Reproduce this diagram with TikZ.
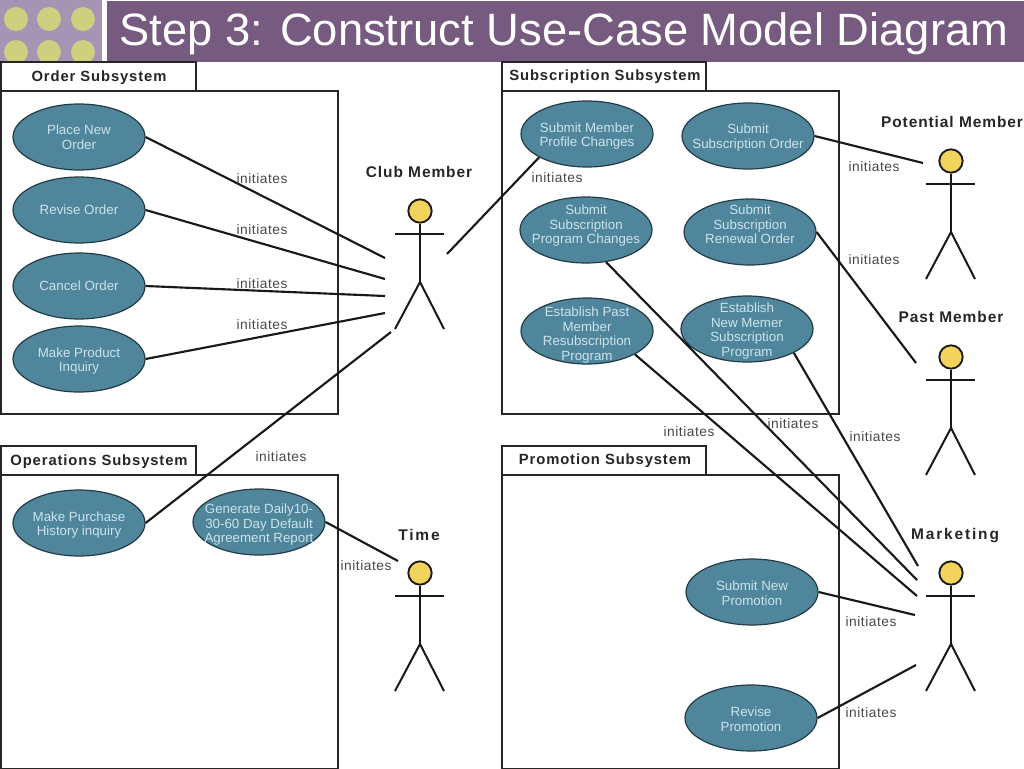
\documentclass[tikz,border=0pt]{standalone}
\usepackage{fontspec}
\setmainfont{Liberation Sans}
\newfontfamily\actorfont[LetterSpace=6]{Liberation Sans}
\newfontfamily\wideactorfont[LetterSpace=12]{Liberation Sans}
\newfontfamily\relationfont[LetterSpace=4]{Liberation Sans}
\usetikzlibrary{shapes, arrows}
\definecolor{titlebar}{HTML}{775A7F}
\definecolor{titlesquare}{HTML}{A594B3}
\definecolor{titledot}{HTML}{CFCF80}
\definecolor{usecasefill}{HTML}{4F869C}
\definecolor{usecasetext}{HTML}{CBE3EC}
\definecolor{headfill}{HTML}{F2D35E}
\definecolor{labelgray}{HTML}{484848}
\tikzstyle{usecase} = [ellipse, minimum width=99pt, minimum height=49.5pt, inner sep=-14pt, align=center, draw=black!55!usecasefill, line width=0.9pt, fill=usecasefill, text=usecasetext, font=\fontsize{10}{10.9}\selectfont]
\tikzstyle{subsystem} = [rectangle, draw=black!85, line width=1.4pt]
\tikzstyle{tabtitle} = [anchor=center, inner sep=0pt, text=black!85, font=\fontsize{11.1}{13}\selectfont\actorfont\bfseries]
\tikzstyle{actorname} = [anchor=center, inner sep=0pt, text=black!85, font=\fontsize{11.6}{13}\selectfont\actorfont\bfseries]
\tikzstyle{wideactorname} = [anchor=center, inner sep=0pt, text=black!85, font=\fontsize{11.6}{13}\selectfont\wideactorfont\bfseries]
\tikzstyle{relation} = [anchor=center, inner sep=0pt, text=labelgray, font=\fontsize{10.3}{12}\selectfont\relationfont]
\tikzstyle{edge} = [line width=1.6pt, black!90]
\tikzstyle{limb} = [line width=1.5pt, black!90]
% strut at the start or end of a use case text, moves the lines down or up
\newcommand{\txtdown}[1]{\rule{0pt}{\dimexpr 7.5pt+#1pt+#1pt\relax}}
\newcommand{\txtup}[1]{\rule[\dimexpr -2.5pt-#1pt-#1pt\relax]{0pt}{0pt}}
% stick figure: name, x of the head, y of the head
\newcommand{\actorfig}[3]{
\node (#1head) [circle, minimum size=17.5pt, inner sep=0pt, draw=black!90, line width=1.4pt, fill=headfill] at (#2,#3) {};
\coordinate (#1neck) at (#2,#3+23);
\coordinate (#1hip) at (#2,#3+71);
\coordinate (#1left) at (#2-25,#3+23);
\coordinate (#1right) at (#2+24,#3+23);
\coordinate (#1footl) at (#2-25,#3+118);
\coordinate (#1footr) at (#2+24,#3+118);
\draw [limb] (#1head) -- (#1hip);
\draw [limb] (#1left) -- (#1right);
\draw [limb] (#1footl) -- (#1hip) -- (#1footr);
}
\begin{document}
\begin{tikzpicture}[x=0.75pt, y=-0.75pt]
\useasboundingbox (0,0) rectangle (1024,768);
\fill [white] (0,0) rectangle (1024,768);

% slide header
\fill [titlesquare] (0,0) rectangle (102,62);
\fill [titlebar] (107,1) rectangle (1024,62);
\begin{scope}
\clip (0,0) rectangle (102,62);
\foreach \dotx in {16,49,83}
  \foreach \doty in {19,52}
    \fill [titledot] (\dotx,\doty) circle (12);
\end{scope}
\node (title) [anchor=center, inner sep=0pt, text=white, font=\fontsize{34}{38}\selectfont] at (564,34) {Step 3: Construct Use-Case Model Diagram};

% subsystems
\draw [subsystem] (1,91) rectangle (338,414);
\draw [subsystem] (1,62) rectangle (196,91);
\node (ordertitle) [tabtitle] at (99,78) {Order Subsystem};
\draw [subsystem] (502,91) rectangle (839,414);
\draw [subsystem] (502,62) rectangle (706,91);
\node (subscriptiontitle) [tabtitle] at (605,77) {Subscription Subsystem};
\draw [subsystem] (1,475) rectangle (338,769);
\draw [subsystem] (1,446) rectangle (196,475);
\node (operationstitle) [tabtitle] at (99,462) {Operations Subsystem};
\draw [subsystem] (502,475) rectangle (839,769);
\draw [subsystem] (502,446) rectangle (706,475);
\node (promotiontitle) [tabtitle] at (605,461) {Promotion Subsystem};

% use cases
\node (placeorder) [usecase] at (79,137) {Place New\\Order};
\node (reviseorder) [usecase] at (79,210) {Revise Order};
\node (cancelorder) [usecase] at (79,286) {Cancel Order};
\node (inquiry) [usecase] at (79,359) {\txtdown{1.5}Make Product\\Inquiry};
\node (history) [usecase] at (79,523) {\txtdown{1.5}Make Purchase\\History inquiry};
\node (report) [usecase] at (259,522) {\txtdown{2}Generate Daily10-\\30-60 Day Default\\Agreement Report};
\node (profile) [usecase] at (587,134) {\txtdown{1.5}Submit Member\\Profile Changes};
\node (suborder) [usecase] at (748,136) {\txtdown{1}Submit\\Subscription Order};
\node (progchanges) [usecase] at (586,230) {Submit\\Subscription\\Program Changes\txtup{3}};
\node (renewal) [usecase] at (750,232) {Submit\\Subscription\\Renewal Order\txtup{4.5}};
\node (pastprog) [usecase] at (587,331) {\txtdown{3}Establish Past\\Member\\Resubscription\\Program};
\node (newprog) [usecase] at (747,329) {\txtdown{1.5}Establish\\New Memer\\Subscription\\Program};
\node (newpromo) [usecase] at (752,592) {\txtdown{0.7}Submit New\\Promotion};
\node (revisepromo) [usecase] at (751,718) {\txtdown{0.7}Revise\\Promotion};

% actors
\actorfig{club}{420}{211}
\actorfig{potential}{951}{161}
\actorfig{past}{951}{357}
\actorfig{time}{420}{573}
\actorfig{marketing}{951}{573}
\node (clubname) [actorname] at (419,172) {Club Member};
\node (potentialname) [actorname] at (952,122) {Potential Member};
\node (pastname) [actorname] at (951,317) {Past Member};
\node (timename) [wideactorname] at (419,535) {Time};
\node (marketingname) [wideactorname] at (955,536) {Marketing};

% free ends of the connectors
\coordinate (clubin1) at (385,258);
\coordinate (clubin2) at (385,279);
\coordinate (clubin3) at (385,296);
\coordinate (clubin4) at (385,313);
\coordinate (clubin5) at (391,332);
\coordinate (clubout) at (447,254);
\coordinate (timein) at (398,561);
\coordinate (potentialin) at (923,163);
\coordinate (pastin) at (916,363);
\coordinate (marketin1) at (918,566);
\coordinate (marketin2) at (917,580);
\coordinate (marketin3) at (917,596);
\coordinate (marketin4) at (915,615);
\coordinate (marketin5) at (916,665);

\draw [edge] (placeorder.east) -- (clubin1);
\draw [edge] (reviseorder.east) -- (clubin2);
\draw [edge] (cancelorder.east) -- (clubin3);
\draw [edge] (inquiry.east) -- (clubin4);
\draw [edge] (history.east) -- (clubin5);
\draw [edge] (clubout) -- (profile.-154);
\draw [edge] (report.east) -- (timein);
\draw [edge] (suborder.east) -- (potentialin);
\draw [edge] (renewal.east) -- (pastin);
\draw [edge] (newprog.-27) -- (marketin1);
\draw [edge] (progchanges.-58) -- (marketin2);
\draw [edge] (pastprog.-26) -- (marketin3);
\draw [edge] (newpromo.east) -- (marketin4);
\draw [edge] (revisepromo.east) -- (marketin5);

% labels
\foreach \relx/\rely/\relname in {262/179/a, 262/230/b, 262/284/c, 262/325/d, 281/457/e, 557/178/f, 874/167/g, 874/260/h, 689/432/i, 793/424/j, 875/437/k, 366/566/l, 871/622/m, 871/713/n}
  \node (rel\relname) [relation] at (\relx,\rely) {initiates};

\end{tikzpicture}
\end{document}
